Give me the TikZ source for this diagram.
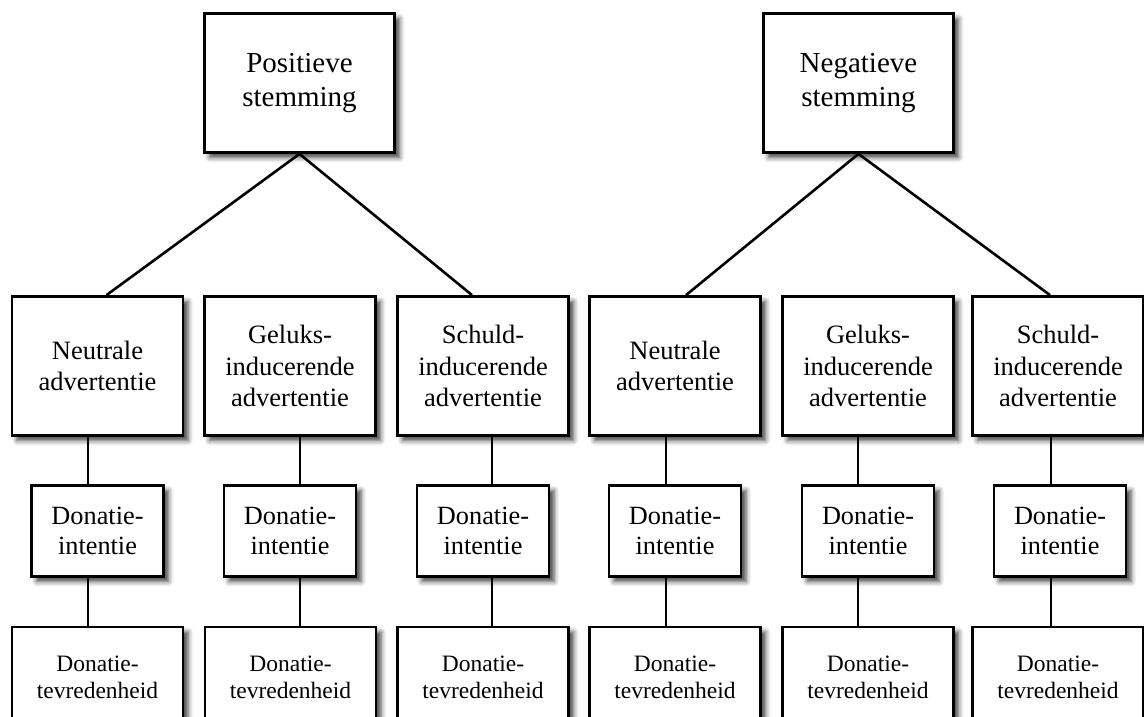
\documentclass[tikz,border=0pt]{standalone}
\usepackage{fontspec}
\setmainfont{Liberation Serif}
\usetikzlibrary{shadows.blur}
\begin{document}
\begin{tikzpicture}[x=1pt,y=-1pt,
  box/.style={draw, line width=2.8pt, fill=white, align=center, inner sep=0pt,
    blur shadow={shadow xshift=5pt, shadow yshift=-5pt, shadow blur radius=5pt, shadow opacity=75}},
  topbox/.style={box, minimum width=190pt, minimum height=139pt, font=\fontsize{29}{34}\selectfont},
  adbox/.style={box, minimum width=171pt, minimum height=139pt, font=\fontsize{26.5}{31.5}\selectfont},
  intbox/.style={box, minimum width=132pt, minimum height=91pt, font=\fontsize{26.3}{30}\selectfont},
  satbox/.style={box, minimum width=171pt, minimum height=100pt, font=\fontsize{23.5}{27}\selectfont},
  conn/.style={line width=2.6pt}]
\useasboundingbox (0,0) rectangle (1144,717);

% top level
\node[topbox] (P) at (299.5,83) {Positieve\\stemming};
\node[topbox] (N) at (858.5,83) {Negatieve\\stemming};

% level 2
\node[adbox] (A1) at (97.5,366) {Neutrale\\advertentie};
\node[adbox] (A2) at (290,366) {Geluks-\\inducerende\\advertentie};
\node[adbox] (A3) at (483,366) {Schuld-\\inducerende\\advertentie};
\node[adbox] (A4) at (675,366) {Neutrale\\advertentie};
\node[adbox] (A5) at (868,366) {Geluks-\\inducerende\\advertentie};
\node[adbox] (A6) at (1058,366) {Schuld-\\inducerende\\advertentie};

% level 3
\foreach \i/\x in {1/97.5,2/290,3/483,4/675,5/868,6/1060}
  \node[intbox] (I\i) at (\x,531) {Donatie-\\intentie};

% level 4
\foreach \i/\x in {1/97.5,2/290.5,3/483,4/675,5/868,6/1058}
  \node[satbox] (S\i) at (\x,677) {Donatie-\\tevredenheid};

% connector x positions
\foreach \i/\x in {1/88,2/300,3/492,4/666,5/858,6/1051}
  \coordinate (x\i) at (\x,0);

% diagonal connectors
\draw[conn] (P.south) -- ([xshift=9pt]A1.north);
\draw[conn] (P.south) -- ([xshift=-11pt]A3.north);
\draw[conn] (N.south) -- ([xshift=11pt]A4.north);
\draw[conn] (N.south) -- ([xshift=-8pt]A6.north);

% vertical connectors
\foreach \i in {1,...,6}{
  \draw[conn] (A\i.south -| x\i) -- (I\i.north -| x\i);
  \draw[conn] (I\i.south -| x\i) -- (S\i.north -| x\i);
}
\end{tikzpicture}
\end{document}
